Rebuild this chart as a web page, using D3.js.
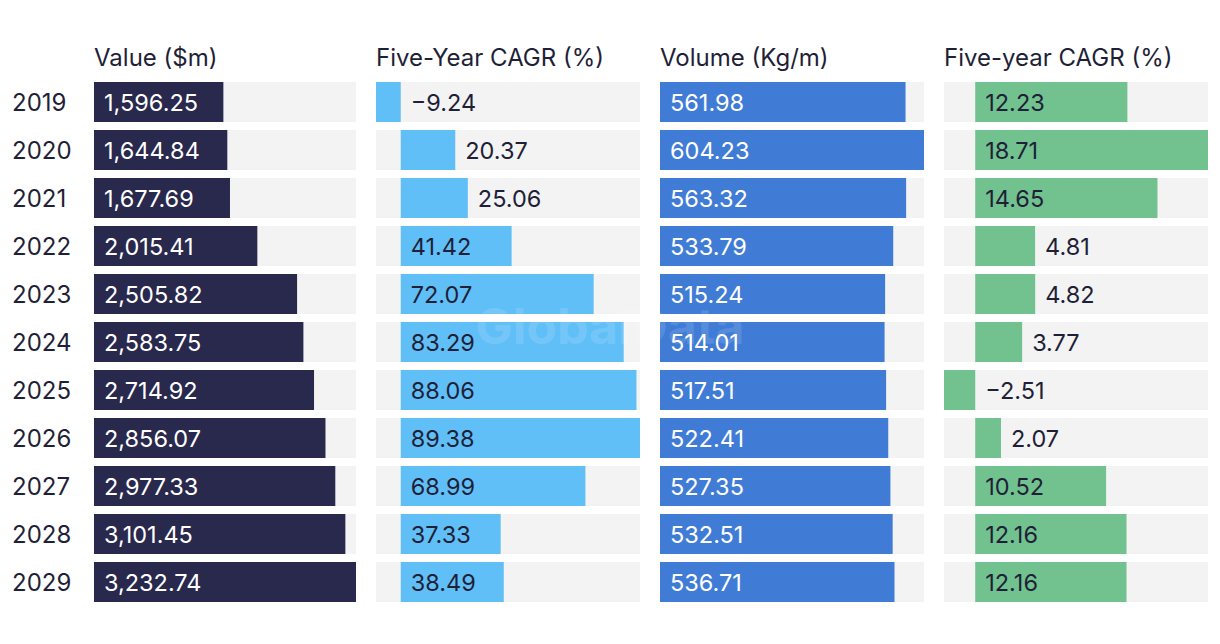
<!DOCTYPE html>
<html><head><meta charset="utf-8">
<script src="https://cdn.jsdelivr.net/npm/d3@7"></script>
<style>
html,body{margin:0;padding:0;background:#fff;}
text{font-family:Inter,"Noto Sans",sans-serif;}
</style></head>
<body>
<svg id="chart" width="1220" height="644"></svg>
<script>
const years = ["2019","2020","2021","2022","2023","2024","2025","2026","2027","2028","2029"];
const valueM = [1596.25,1644.84,1677.69,2015.41,2505.82,2583.75,2714.92,2856.07,2977.33,3101.45,3232.74];
const valueCagr = [-9.24,20.37,25.06,41.42,72.07,83.29,88.06,89.38,68.99,37.33,38.49];
const volume = [561.98,604.23,563.32,533.79,515.24,514.01,517.51,522.41,527.35,532.51,536.71];
const volumeCagr = [12.23,18.71,14.65,4.81,4.82,3.77,-2.51,2.07,10.52,12.16,12.16];
const headers = ["Value ($m)","Five-Year CAGR (%)","Volume (Kg/m)","Five-year CAGR (%)"];

const svg = d3.select("#chart");
const fmt = d3.format(",.2f");
const textDark = "#1f1f38";

// rows 40px tall with 48px pitch
const y = d3.scaleBand().domain(years).range([82, 82 + 48*11 - 8]).paddingInner(8/48).paddingOuter(0);

const panels = [
  {data: valueM, x0: 94, x1: 356, color: "#29284d", label: "#ffffff", header: headers[0]},
  {data: valueCagr, x0: 376, x1: 640, color: "#61bff8", label: textDark, header: headers[1]},
  {data: volume, x0: 660, x1: 924, color: "#407cd6", label: "#ffffff", header: headers[2]},
  {data: volumeCagr, x0: 944, x1: 1208, color: "#72c290", label: textDark, header: headers[3]}
];

// year labels
svg.append("g").selectAll("text").data(years).join("text")
  .attr("x", 12).attr("y", d => y(d) + y.bandwidth()/2)
  .attr("dominant-baseline", "central")
  .attr("font-size", 24).attr("fill", textDark).text(d => d);

panels.forEach(p => {
  const mn = Math.min(0, d3.min(p.data)), mx = d3.max(p.data);
  const x = d3.scaleLinear().domain([mn, mx]).range([p.x0, p.x1]);
  const g = svg.append("g");
  g.append("text").attr("x", p.x0).attr("y", 66).attr("font-size", 24)
    .attr("fill", textDark).text(p.header);
  const rows = g.selectAll("g.row").data(p.data.map((v,i)=>({v, yr: years[i]}))).join("g");
  rows.append("rect").attr("x", p.x0).attr("width", p.x1 - p.x0)
    .attr("y", d => y(d.yr)).attr("height", y.bandwidth()).attr("fill", "#f3f3f3");
  rows.append("rect").attr("x", d => Math.min(x(0), x(d.v)))
    .attr("width", d => Math.abs(x(d.v) - x(0)))
    .attr("y", d => y(d.yr)).attr("height", y.bandwidth()).attr("fill", p.color);
  rows.append("text")
    .attr("y", d => y(d.yr) + y.bandwidth()/2)
    .attr("dominant-baseline", "central")
    .attr("font-size", 23.5)
    .text(d => fmt(d.v))
    .each(function(d){
      const t = d3.select(this);
      const w = this.getComputedTextLength();
      const bw = x(d.v) - x(0);
      if (d.v < 0) { t.attr("x", x(0) + 10).attr("fill", textDark); }
      else if (bw >= w + 20) { t.attr("x", x(0) + 10).attr("fill", p.label); }
      else { t.attr("x", x(d.v) + 10).attr("fill", textDark); }
    });
});

// watermark overlay (very faint white, as in the reference)
svg.append("text").attr("x", 610).attr("y", 326).attr("text-anchor","middle")
  .attr("dominant-baseline","central").attr("font-size", 50).attr("font-weight", 700)
  .attr("fill", "#ffffff").attr("fill-opacity", 0.12).attr("pointer-events","none").text("GlobalData");
</script>
</body></html>
